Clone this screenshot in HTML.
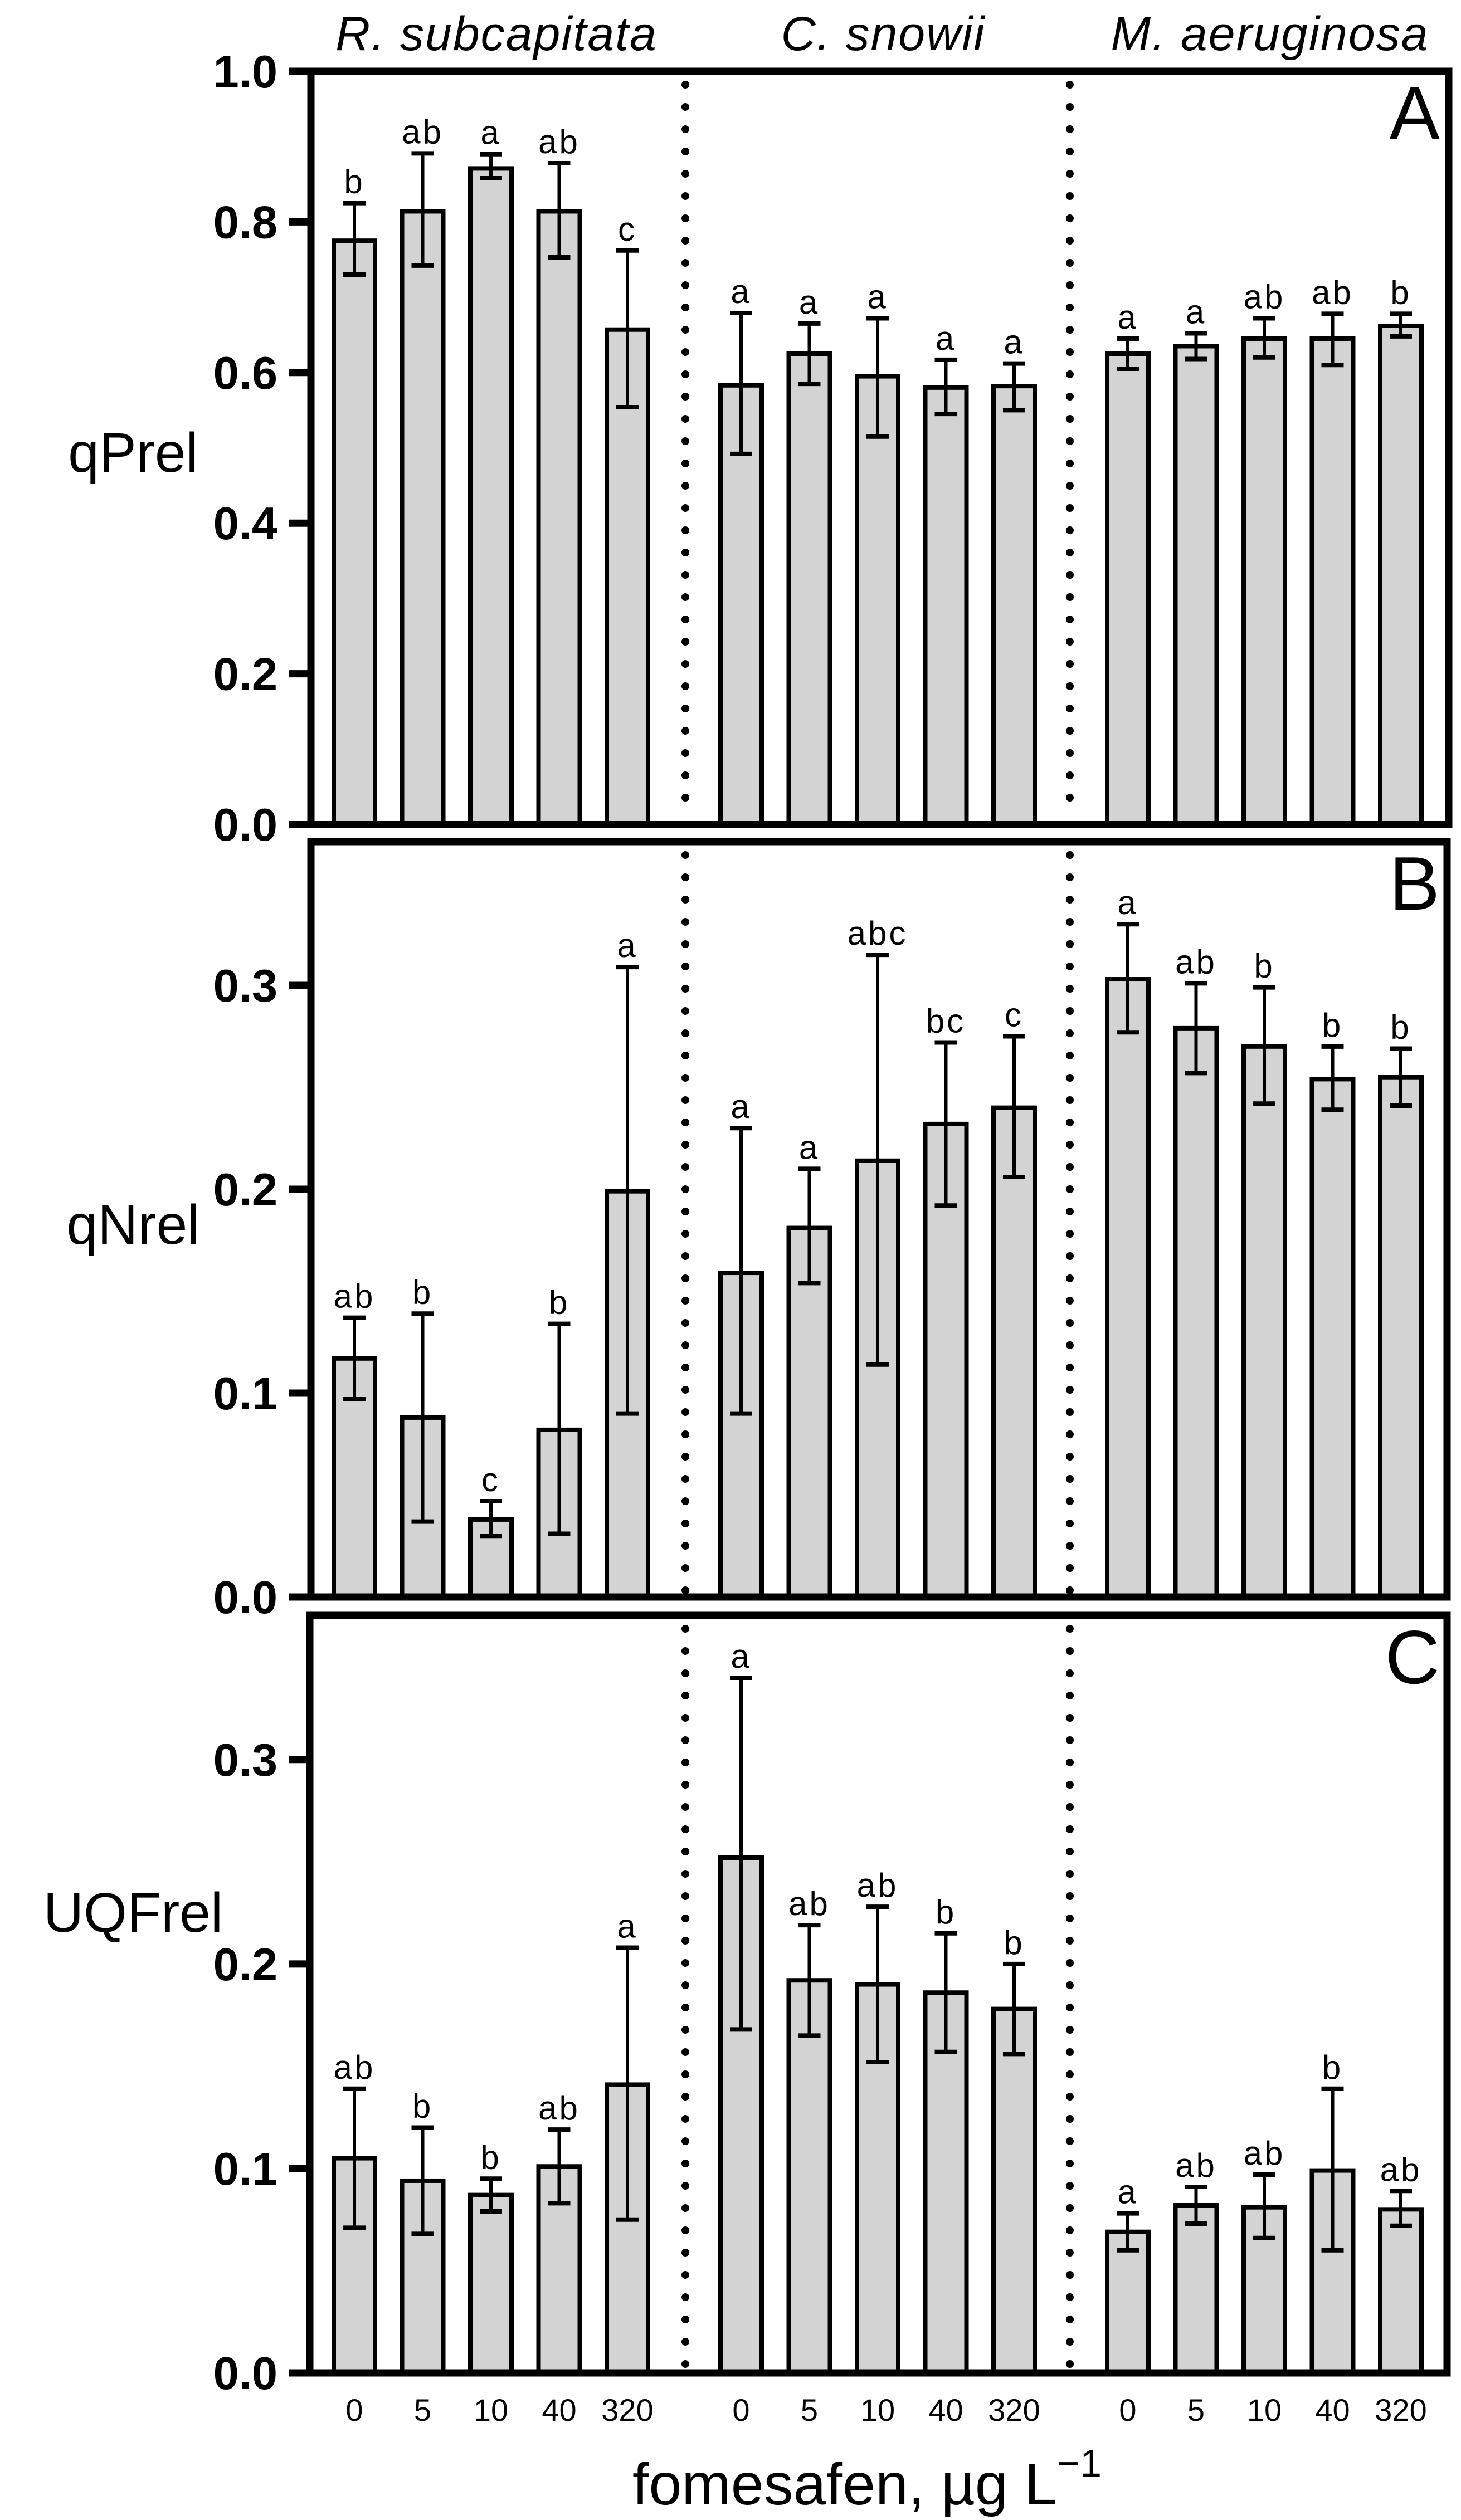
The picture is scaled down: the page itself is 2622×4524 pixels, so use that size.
<!DOCTYPE html>
<html><head><meta charset="utf-8">
<style>
html,body{margin:0;padding:0;background:#fff;}
svg{display:block;font-family:"Liberation Sans",Arial,sans-serif;}
</style></head>
<body>
<svg id="chart" width="2622" height="4524" viewBox="0 0 2622 4524" xmlns="http://www.w3.org/2000/svg">
<g id="root"></g>
</svg>
<script>
// ---- data ----
const species = ["R. subcapitata", "C. snowii", "M. aeruginosa"];
const doses = ["0", "5", "10", "40", "320"];
const panelLetters = ["A", "B", "C"];
const panelTitles = ["qPrel", "qNrel", "UQFrel"];
const ticksA = [0.0, 0.2, 0.4, 0.6, 0.8, 1.0];
const ticksB = [0.0, 0.1, 0.2, 0.3];
const ticksC = [0.0, 0.1, 0.2, 0.3];
const tickLabelsA = ["0.0", "0.2", "0.4", "0.6", "0.8", "1.0"];
const tickLabelsB = ["0.0", "0.1", "0.2", "0.3"];
const tickLabelsC = ["0.0", "0.1", "0.2", "0.3"];

const meanA = [0.775, 0.814, 0.871, 0.814, 0.657, 0.583, 0.625, 0.595, 0.580, 0.582, 0.625, 0.635, 0.645, 0.645, 0.662];
const lowA  = [0.730, 0.742, 0.858, 0.753, 0.554, 0.492, 0.585, 0.515, 0.545, 0.550, 0.605, 0.618, 0.620, 0.610, 0.648];
const highA = [0.825, 0.891, 0.890, 0.878, 0.762, 0.679, 0.665, 0.672, 0.617, 0.612, 0.645, 0.652, 0.672, 0.678, 0.678];
const letA  = ["b","ab","a","ab","c","a","a","a","a","a","a","a","ab","ab","b"];

const meanB = [0.117, 0.088, 0.038, 0.082, 0.199, 0.159, 0.181, 0.214, 0.232, 0.240, 0.303, 0.279, 0.270, 0.254, 0.255];
const lowB  = [0.097, 0.037, 0.030, 0.031, 0.090, 0.090, 0.154, 0.114, 0.192, 0.206, 0.277, 0.257, 0.242, 0.239, 0.241];
const highB = [0.137, 0.139, 0.047, 0.134, 0.309, 0.230, 0.210, 0.315, 0.272, 0.275, 0.330, 0.301, 0.299, 0.270, 0.269];
const letB  = ["ab","b","c","b","a","a","a","abc","bc","c","a","ab","b","b","b"];

const meanC = [0.105, 0.094, 0.087, 0.101, 0.141, 0.252, 0.192, 0.190, 0.186, 0.178, 0.069, 0.082, 0.081, 0.099, 0.080];
const lowC  = [0.071, 0.068, 0.079, 0.083, 0.075, 0.168, 0.165, 0.152, 0.157, 0.156, 0.060, 0.073, 0.066, 0.060, 0.072];
const highC = [0.139, 0.120, 0.095, 0.119, 0.208, 0.340, 0.219, 0.228, 0.215, 0.200, 0.078, 0.091, 0.097, 0.139, 0.089];
const letC  = ["ab","b","b","ab","a","a","ab","ab","b","b","a","ab","ab","b","ab"];

// ---- layout ----
const NS = "http://www.w3.org/2000/svg";
const root = document.getElementById("root");
function mk(tag, attrs, parent) {
  const e = document.createElementNS(NS, tag);
  for (const k in attrs) e.setAttribute(k, attrs[k]);
  (parent || root).appendChild(e);
  return e;
}
const panels = [
  {top:128, bottom:1480, left:558, right:2600, ymax:1.0, ticks:ticksA, tl:tickLabelsA, mean:meanA, low:lowA, high:highA, let:letA, titleY:847, titleX:239},
  {top:1511, bottom:2867, left:558, right:2597, ymax:0.3705, ticks:ticksB, tl:tickLabelsB, mean:meanB, low:lowB, high:highB, let:letB, titleY:2233, titleX:239},
  {top:2900, bottom:4260, left:556, right:2597, ymax:0.3705, ticks:ticksC, tl:tickLabelsC, mean:meanC, low:lowC, high:highC, let:letC, titleY:3468, titleX:239}
];
function xPos(idx) { const g = Math.floor(idx / 5), i = idx % 5; return 636 + 122.5 * i + 694 * g; }
const sepX = [1230, 1920];

panels.forEach((p, pi) => {
  const y = v => p.bottom - v / p.ymax * (p.bottom - p.top);
  const pg = mk("g", {});
  
  
  sepX.forEach((sx, si) => {
    const l = mk("line", {x1:sx, y1:p.top + 24, x2:sx, y2:p.bottom - 8, stroke:"#000", "stroke-width":14, "stroke-linecap":"round", "stroke-dasharray":"0 40"}, pg);
    
    
  });
  p.mean.forEach((m, i) => {
    const cx = xPos(i);
    const r = mk("rect", {x:cx - 37, y:y(m), width:74, height:p.bottom - y(m), fill:"#d3d3d3", stroke:"#000", "stroke-width":8}, pg);
    
    
    const eg = mk("g", {stroke:"#000"}, pg);
    
    
    mk("line", {x1:cx, y1:y(p.high[i]), x2:cx, y2:y(p.low[i]), "stroke-width":6}, eg);
    mk("line", {x1:cx - 20, y1:y(p.high[i]), x2:cx + 20, y2:y(p.high[i]), "stroke-width":8}, eg);
    mk("line", {x1:cx - 20, y1:y(p.low[i]), x2:cx + 20, y2:y(p.low[i]), "stroke-width":8}, eg);
    const t = mk("text", {x:cx, y:y(p.high[i]) - 18, "text-anchor":"middle", "font-size":60, "letter-spacing":4}, pg);
    t.textContent = p.let[i];
    
    
  });
  const f = mk("rect", {x:p.left, y:p.top, width:p.right - p.left, height:p.bottom - p.top, fill:"none", stroke:"#000", "stroke-width":13}, pg);
  
  
  p.ticks.forEach((tv, ti) => {
    const ty = y(tv);
    const tk = mk("line", {x1:518, y1:ty, x2:p.left, y2:ty, stroke:"#000", "stroke-width":13}, pg);
    
    
    const tl = mk("text", {x:498, y:ty + 29, "text-anchor":"end", "font-size":83, "font-weight":"bold"}, pg);
    tl.textContent = p.tl[ti];
    
    
  });
  const yt = mk("text", {x:p.titleX, y:p.titleY, "text-anchor":"middle", "font-size":100}, pg);
  yt.textContent = panelTitles[pi];
  
  
  const pl = mk("text", {x:2584, y:p.top + 122, "text-anchor":"end", "font-size":136}, pg);
  pl.textContent = panelLetters[pi];
  
  
});

species.forEach((s, si) => {
  const cx = (xPos(si * 5) + xPos(si * 5 + 4)) / 2 + 10;
  const t = mk("text", {x:cx, y:90, "text-anchor":"middle", "font-size":86, "font-style":"italic", "letter-spacing":2});
  t.textContent = s;
  
  
});
for (let i = 0; i < 15; i++) {
  const t = mk("text", {x:xPos(i), y:4346, "text-anchor":"middle", "font-size":56});
  t.textContent = doses[i % 5];
  
  
}
const xt = mk("text", {x:1135, y:4496, "font-size":106});


xt.appendChild(document.createTextNode("fomesafen, µg L"));
const sup = mk("tspan", {dy:-50, "font-size":70}, xt);
sup.textContent = "−1";
</script>
</body></html>
